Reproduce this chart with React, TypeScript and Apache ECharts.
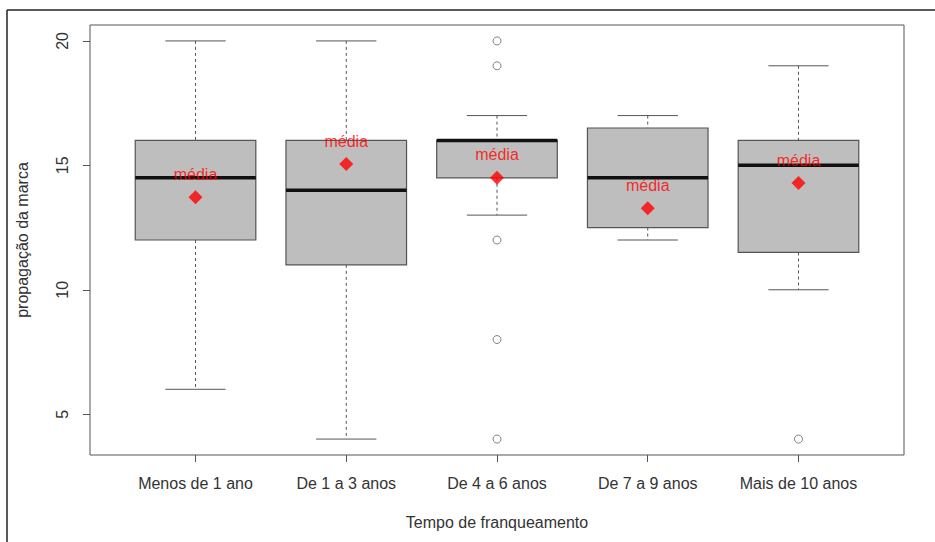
import React, { useEffect, useRef } from "react";
import * as echarts from "echarts";

const categories = ["Menos de 1 ano", "De 1 a 3 anos", "De 4 a 6 anos", "De 7 a 9 anos", "Mais de 10 anos"];
// [lower whisker, Q1, median, Q3, upper whisker]
const boxLow = [6, 4, 13, 12, 10];
const boxQ1 = [12, 11, 14.5, 12.5, 11.5];
const boxMedian = [14.5, 14, 16, 14.5, 15];
const boxQ3 = [16, 16, 16, 16.5, 16];
const boxHigh = [20, 20, 17, 17, 19];
const means = [13.72, 15.05, 14.5, 13.28, 14.29];
// outliers: [category index (1-based), value]
const outlierGroup = [3, 3, 3, 3, 3, 5];
const outlierValue = [20, 19, 12, 8, 4, 4];
const yTicks = [5, 10, 15, 20];

const FONT = "'Liberation Sans', Arial, sans-serif";
const TEXT = "#333";
const LINE = "#555";

export default function App() {
  const ref = useRef<HTMLDivElement>(null);
  useEffect(() => {
    if (!ref.current) return;
    const chart = echarts.init(ref.current, null, { renderer: "svg" });
    const boxData = categories.map((_, i) => [i + 1, boxLow[i], boxQ1[i], boxMedian[i], boxQ3[i], boxHigh[i]]);
    chart.setOption({
      animation: false,
      backgroundColor: "#fff",
      grid: { left: 90, right: 31, top: 25, bottom: 87, show: true, borderColor: LINE, borderWidth: 1, backgroundColor: "transparent" },
      xAxis: {
        type: "value",
        min: 0.3,
        max: 5.7,
        name: "Tempo de franqueamento",
        nameLocation: "middle",
        nameGap: 59,
        nameTextStyle: { fontFamily: FONT, fontSize: 16, color: TEXT },
        axisLine: { show: false },
        splitLine: { show: false },
        axisTick: { show: true, length: 7, lineStyle: { color: LINE }, customValues: [1, 2, 3, 4, 5] },
        axisLabel: {
          customValues: [1, 2, 3, 4, 5],
          formatter: (v: number) => categories[Math.round(v) - 1] || "",
          fontFamily: FONT,
          fontSize: 16,
          color: TEXT,
          margin: 20,
        },
      },
      yAxis: {
        type: "value",
        min: 3.36,
        max: 20.64,
        name: "propagação da marca",
        nameLocation: "middle",
        nameGap: 60,
        nameRotate: 90,
        nameTextStyle: { fontFamily: FONT, fontSize: 16, color: TEXT },
        axisLine: { show: false },
        splitLine: { show: false },
        axisTick: { show: true, length: 7, lineStyle: { color: LINE }, customValues: yTicks },
        axisLabel: {
          customValues: yTicks,
          rotate: 90,
          fontFamily: FONT,
          fontSize: 16,
          color: TEXT,
          margin: 20,
        },
      },
      graphic: [
        { type: "line", shape: { x1: 7, y1: 10, x2: 935, y2: 10 }, style: { stroke: "#222", lineWidth: 1.5 }, z: 100 },
        { type: "line", shape: { x1: 7, y1: 10, x2: 7, y2: 542 }, style: { stroke: "#222", lineWidth: 1.5 }, z: 100 },
      ],
      series: [
        {
          type: "custom",
          data: boxData,
          encode: { x: 0, y: [1, 2, 3, 4, 5] },
          renderItem: (params: any, api: any) => {
            const x = api.value(0);
            const low = api.value(1), q1 = api.value(2), med = api.value(3), q3 = api.value(4), high = api.value(5);
            const half = api.size([0.4, 0])[0];
            const capHalf = api.size([0.2, 0])[0];
            const pLow = api.coord([x, low]);
            const pQ1 = api.coord([x, q1]);
            const pMed = api.coord([x, med]);
            const pQ3 = api.coord([x, q3]);
            const pHigh = api.coord([x, high]);
            const cx = pLow[0];
            const dashed = { stroke: LINE, lineWidth: 1, lineDash: [3, 3] };
            const solid = { stroke: LINE, lineWidth: 1 };
            return {
              type: "group",
              children: [
                { type: "line", shape: { x1: cx, y1: pHigh[1], x2: cx, y2: pQ3[1] }, style: dashed },
                { type: "line", shape: { x1: cx, y1: pQ1[1], x2: cx, y2: pLow[1] }, style: dashed },
                { type: "line", shape: { x1: cx - capHalf, y1: pHigh[1], x2: cx + capHalf, y2: pHigh[1] }, style: solid },
                { type: "line", shape: { x1: cx - capHalf, y1: pLow[1], x2: cx + capHalf, y2: pLow[1] }, style: solid },
                { type: "rect", shape: { x: cx - half, y: pQ3[1], width: half * 2, height: pQ1[1] - pQ3[1] }, style: { fill: "#bebebe", stroke: LINE, lineWidth: 1.2 } },
                { type: "line", shape: { x1: cx - half, y1: pMed[1], x2: cx + half, y2: pMed[1] }, style: { stroke: "#111", lineWidth: 3.5 } },
              ],
            };
          },
          z: 2,
        },
        {
          type: "scatter",
          data: outlierGroup.map((g, i) => [g, outlierValue[i]]),
          symbol: "circle",
          symbolSize: 8,
          itemStyle: { color: "#fff", borderColor: "#666", borderWidth: 1 },
          z: 3,
        },
        {
          type: "scatter",
          data: means.map((m, i) => [i + 1, m]),
          symbol: "diamond",
          symbolSize: 14,
          itemStyle: { color: "#f00" },
          label: {
            show: true,
            formatter: "média",
            position: "top",
            distance: 8,
            color: "#f00",
            fontFamily: FONT,
            fontSize: 16,
          },
          z: 4,
        },
      ],
    });
    return () => chart.dispose();
  }, []);
  return <div ref={ref} style={{ position: "absolute", left: 0, top: 0, width: 935, height: 542 }} />;
}
